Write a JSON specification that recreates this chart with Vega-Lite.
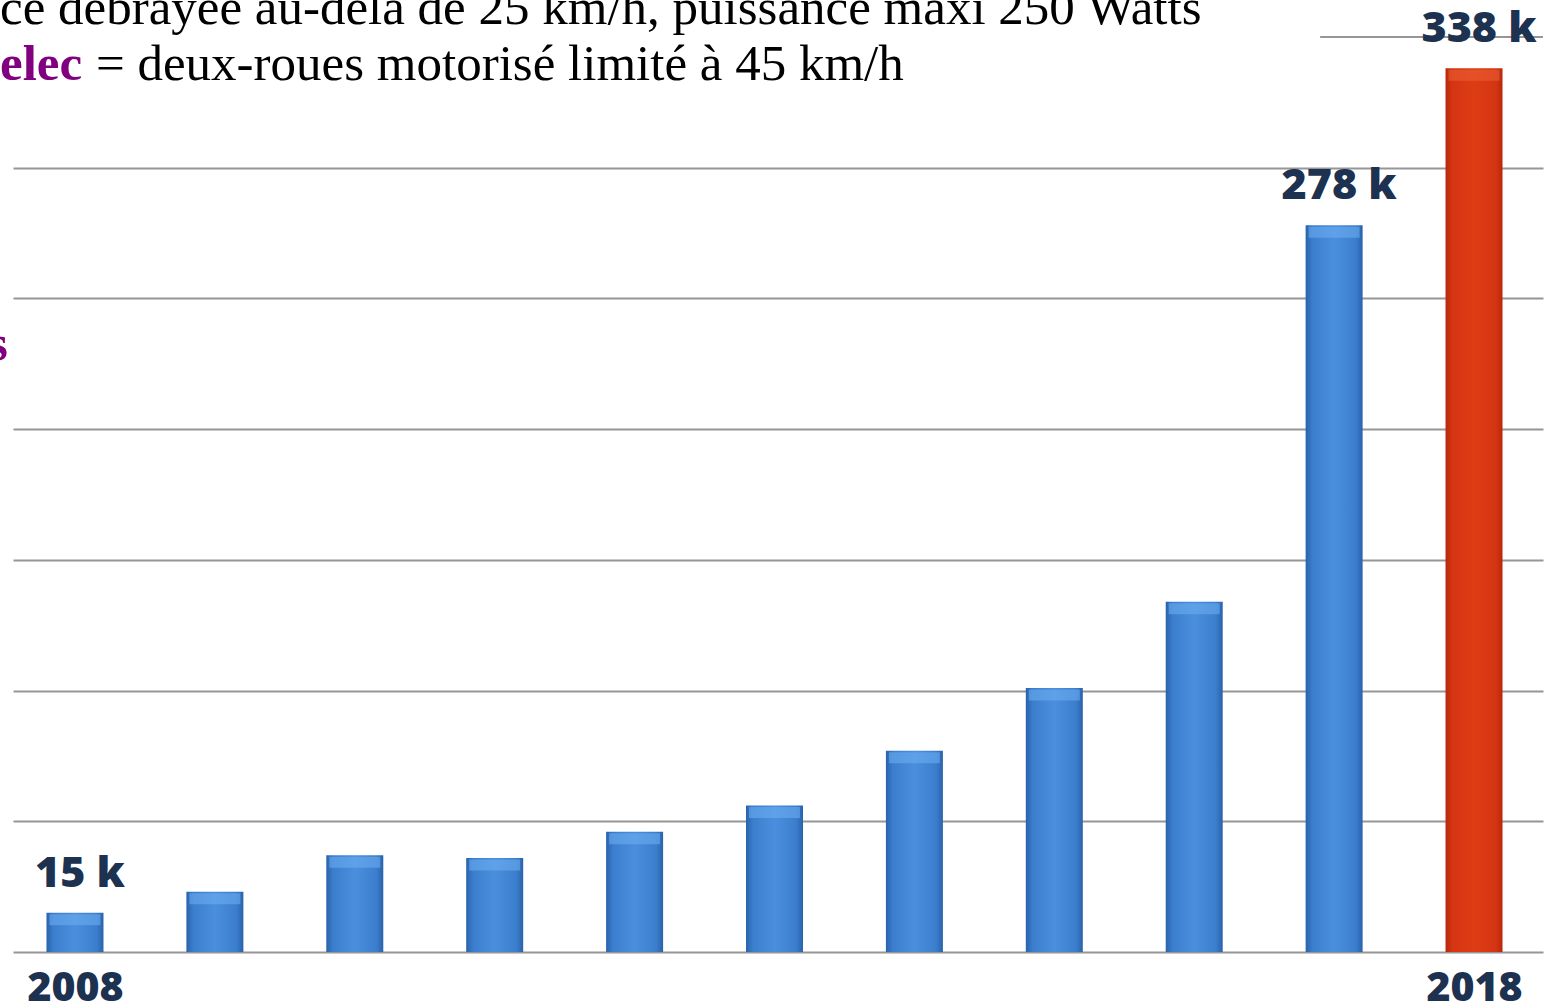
{
  "$schema": "https://vega.github.io/schema/vega-lite/v6.json",
  "autosize": "none",
  "width": 1530,
  "height": 915,
  "padding": {"left": 13, "top": 37, "right": 7, "bottom": 53},
  "background": "white",
  "config": {"view": {"stroke": null}},
  "datasets": {
    "ventes": [
      {"annee": 2008, "milliers": 15, "etiquette": "15 k"},
      {"annee": 2009, "milliers": 23, "etiquette": ""},
      {"annee": 2010, "milliers": 37, "etiquette": ""},
      {"annee": 2011, "milliers": 36, "etiquette": ""},
      {"annee": 2012, "milliers": 46, "etiquette": ""},
      {"annee": 2013, "milliers": 56, "etiquette": ""},
      {"annee": 2014, "milliers": 77, "etiquette": ""},
      {"annee": 2015, "milliers": 101, "etiquette": ""},
      {"annee": 2016, "milliers": 134, "etiquette": ""},
      {"annee": 2017, "milliers": 278, "etiquette": "278 k"},
      {"annee": 2018, "milliers": 338, "etiquette": "338 k"}
    ],
    "notes_noir": [
      {"texte": "ce débrayée au-delà de 25 km/h, puissance maxi 250 Watts", "x": 2007.464, "y": 355.0},
      {"texte": "= deux-roues motorisé limité à 45 km/h", "x": 2008.15, "y": 333.6}
    ],
    "notes_violet": [
      {"texte": "elec", "x": 2007.464, "y": 333.6, "align": "left"},
      {"texte": "s", "x": 2007.521, "y": 226.5, "align": "right"}
    ],
    "ligne_haute": [
      {"y": 350, "debut": 2016.9, "fin": 2018.493}
    ]
  },
  "encoding": {
    "x": {
      "type": "quantitative",
      "scale": {"domain": [2007.557, 2018.493], "nice": false, "zero": false, "padding": 0},
      "axis": {
        "title": null,
        "values": [2008, 2018],
        "format": "d",
        "domain": false,
        "ticks": false,
        "grid": false,
        "labelFont": "Open Sans",
        "labelFontWeight": 800,
        "labelFontSize": 41,
        "labelColor": "#1c3250",
        "labelPadding": 16,
        "labelBaseline": "top"
      }
    },
    "y": {
      "type": "quantitative",
      "scale": {"domain": [0, 350], "nice": false},
      "axis": {
        "title": null,
        "values": [0, 50, 100, 150, 200, 250, 300],
        "labels": false,
        "ticks": false,
        "domain": false,
        "grid": true,
        "gridColor": "#969696",
        "gridWidth": 2
      }
    }
  },
  "layer": [
    {
      "data": {"name": "ligne_haute"},
      "mark": {"type": "rule", "color": "#969696", "strokeWidth": 2},
      "encoding": {
        "x": {"field": "debut", "type": "quantitative"},
        "x2": {"field": "fin"},
        "y": {"field": "y", "type": "quantitative"}
      }
    },
    {
      "data": {"name": "ventes"},
      "transform": [{"filter": "datum.annee < 2018"}],
      "layer": [
        {
          "mark": {
            "type": "bar",
            "width": 57,
            "fill": {
              "gradient": "linear", "x1": 0, "y1": 0, "x2": 1, "y2": 0,
              "stops": [
                {"offset": 0, "color": "#2a62ab"},
                {"offset": 0.12, "color": "#3b7ecd"},
                {"offset": 0.5, "color": "#4a8fdd"},
                {"offset": 0.88, "color": "#3b7ecd"},
                {"offset": 1, "color": "#2a62ab"}
              ]
            }
          }
        },
        {
          "mark": {
            "type": "tick",
            "orient": "horizontal",
            "size": 51,
            "thickness": 11,
            "yOffset": 7,
            "color": "#6fb0f2",
            "opacity": 0.55
          }
        }
      ],
      "encoding": {
        "x": {"field": "annee", "type": "quantitative"},
        "y": {"field": "milliers", "type": "quantitative"}
      }
    },
    {
      "data": {"name": "ventes"},
      "transform": [{"filter": "datum.annee === 2018"}],
      "layer": [
        {
          "mark": {
            "type": "bar",
            "width": 57,
            "fill": {
              "gradient": "linear", "x1": 0, "y1": 0, "x2": 1, "y2": 0,
              "stops": [
                {"offset": 0, "color": "#b8280c"},
                {"offset": 0.12, "color": "#d43512"},
                {"offset": 0.5, "color": "#de3c14"},
                {"offset": 0.88, "color": "#d43512"},
                {"offset": 1, "color": "#b8280c"}
              ]
            }
          }
        },
        {
          "mark": {
            "type": "tick",
            "orient": "horizontal",
            "size": 51,
            "thickness": 11,
            "yOffset": 7,
            "color": "#f06a3c",
            "opacity": 0.45
          }
        }
      ],
      "encoding": {
        "x": {"field": "annee", "type": "quantitative"},
        "y": {"field": "milliers", "type": "quantitative"}
      }
    },
    {
      "data": {"name": "ventes"},
      "mark": {
        "type": "text",
        "font": "Open Sans",
        "fontWeight": 800,
        "fontSize": 43,
        "color": "#1c3250",
        "baseline": "alphabetic",
        "align": "center",
        "dx": 5,
        "dy": -26
      },
      "encoding": {
        "x": {"field": "annee", "type": "quantitative"},
        "y": {"field": "milliers", "type": "quantitative"},
        "text": {"field": "etiquette"}
      }
    },
    {
      "data": {"name": "notes_noir"},
      "mark": {
        "type": "text",
        "font": "Liberation Serif",
        "fontSize": 51,
        "color": "#000000",
        "align": "left",
        "baseline": "alphabetic"
      },
      "encoding": {
        "x": {"field": "x", "type": "quantitative"},
        "y": {"field": "y", "type": "quantitative"},
        "text": {"field": "texte"}
      }
    },
    {
      "data": {"name": "notes_violet"},
      "transform": [{"filter": "datum.align === 'left'"}],
      "mark": {
        "type": "text",
        "font": "Liberation Serif",
        "fontWeight": "bold",
        "fontSize": 51,
        "color": "#800080",
        "align": "left",
        "baseline": "alphabetic",
        "dx": 0
      },
      "encoding": {
        "x": {"field": "x", "type": "quantitative"},
        "y": {"field": "y", "type": "quantitative"},
        "text": {"field": "texte"}
      }
    },
    {
      "data": {"name": "notes_violet"},
      "transform": [{"filter": "datum.align === 'right'"}],
      "mark": {
        "type": "text",
        "font": "Liberation Serif",
        "fontWeight": "bold",
        "fontSize": 51,
        "color": "#800080",
        "align": "right",
        "baseline": "alphabetic"
      },
      "encoding": {
        "x": {"field": "x", "type": "quantitative"},
        "y": {"field": "y", "type": "quantitative"},
        "text": {"field": "texte"}
      }
    }
  ]
}
